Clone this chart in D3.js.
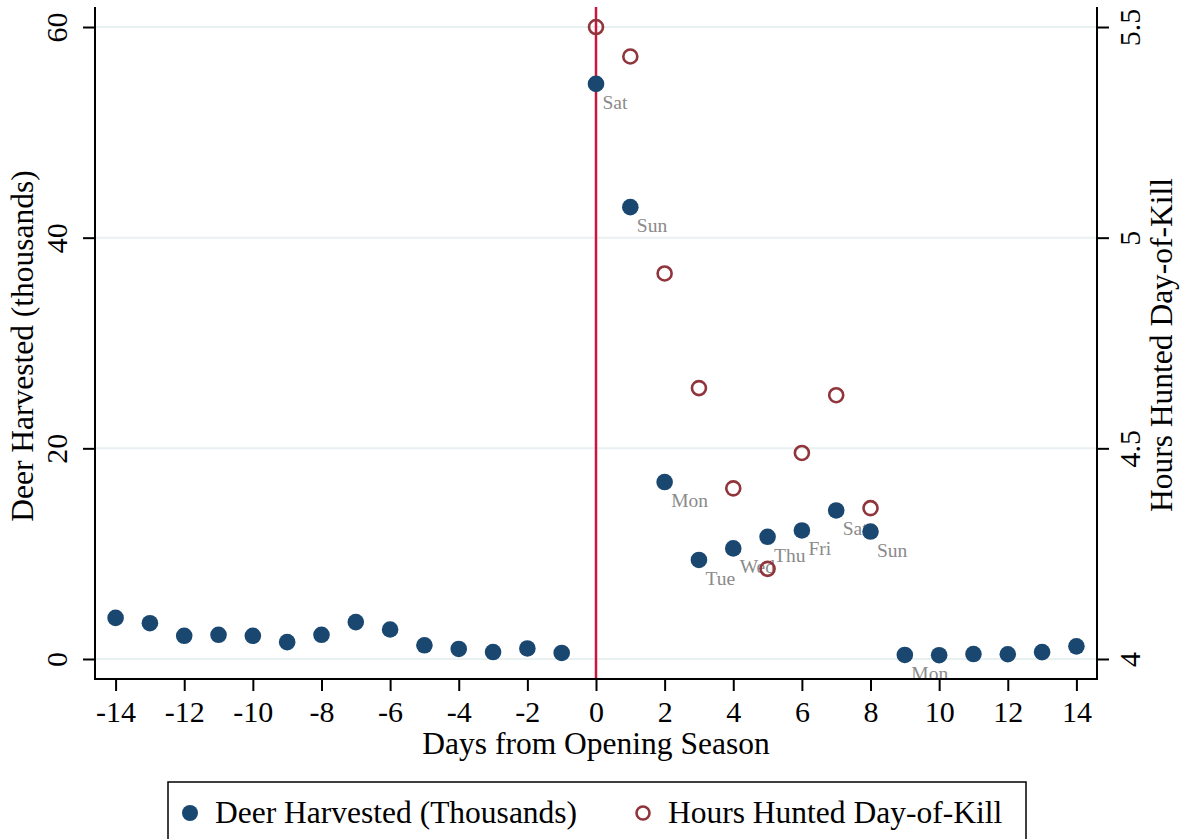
<!DOCTYPE html>
<html>
<head>
<meta charset="utf-8">
<script src="https://cdn.jsdelivr.net/npm/d3@7"></script>
<style>
  body { margin: 0; background: #fff; }
  svg { display: block; font-family: "Liberation Serif", "Times New Roman", serif; }
</style>
</head>
<body>
<svg id="chart"></svg>
<script>
// Days from opening season (x categories)
const days = [-14, -13, -12, -11, -10, -9, -8, -7, -6, -5, -4, -3, -2, -1,
  0, 1, 2, 3, 4, 5, 6, 7, 8, 9, 10, 11, 12, 13, 14];
// Deer harvested (thousands), left axis
const deer = [3.9, 3.4, 2.2, 2.3, 2.2, 1.6, 2.3, 3.5, 2.8, 1.3, 0.95, 0.66, 1.0, 0.57,
  54.6, 42.9, 16.8, 9.4, 10.5, 11.6, 12.2, 14.1, 12.1, 0.38, 0.36, 0.47, 0.45, 0.65, 1.2];
// Hours hunted day-of-kill, right axis
const hourDays = [0, 1, 2, 3, 4, 5, 6, 7, 8];
const hours = [5.50, 5.43, 4.915, 4.643, 4.405, 4.214, 4.489, 4.626, 4.358];
// Weekday labels next to the harvest markers
const labelDays = [0, 1, 2, 3, 4, 5, 6, 7, 8, 9];
const weekdays = ["Sat", "Sun", "Mon", "Tue", "Wed", "Thu", "Fri", "Sat", "Sun", "Mon"];
// Tick labels
const xTicks = [-14, -12, -10, -8, -6, -4, -2, 0, 2, 4, 6, 8, 10, 12, 14];
const leftTicks = [0, 20, 40, 60];
const rightTicks = [4, 4.5, 5, 5.5];

const config = {
  width: 1183, height: 839,
  left: 95, right: 1097, top: 7, bottom: 679
};
const navy = "#1a476f", maroon = "#90353b", vline = "#c8163c", grid = "#e9f0f1";

const svg = d3.select("#chart")
  .attr("width", config.width)
  .attr("height", config.height);

const x = d3.scaleLinear().domain([-14.6, 14.6]).range([config.left, config.right]);
const yL = d3.scaleLinear().domain([-1.9, 61.9]).range([config.bottom, config.top]);
// right axis lines up with left: 4 + left/40
const yR = d3.scaleLinear().domain([4 - 1.9 / 40, 4 + 61.9 / 40]).range([config.bottom, config.top]);

// gridlines
svg.append("g").selectAll("line")
  .data(leftTicks)
  .join("line")
  .attr("x1", config.left).attr("x2", config.right)
  .attr("y1", d => yL(d)).attr("y2", d => yL(d))
  .attr("stroke", grid).attr("stroke-width", 2);

// opening day line
svg.append("line")
  .attr("x1", x(0)).attr("x2", x(0))
  .attr("y1", config.top).attr("y2", config.bottom)
  .attr("stroke", vline).attr("stroke-width", 2.5);

// weekday labels
svg.append("g").selectAll("text")
  .data(labelDays)
  .join("text")
  .attr("x", d => x(d) + 6.5)
  .attr("y", d => yL(deer[days.indexOf(d)]) + 25)
  .attr("font-size", 19.5)
  .attr("fill", "#8a8a8a")
  .text((d, i) => weekdays[i]);

// deer harvested
svg.append("g").selectAll("circle")
  .data(days)
  .join("circle")
  .attr("cx", d => x(d))
  .attr("cy", (d, i) => yL(deer[i]))
  .attr("r", 8.3)
  .attr("fill", navy);

// hours hunted
svg.append("g").selectAll("circle")
  .data(hourDays)
  .join("circle")
  .attr("cx", d => x(d))
  .attr("cy", (d, i) => yR(hours[i]))
  .attr("r", 7)
  .attr("fill", "none")
  .attr("stroke", maroon)
  .attr("stroke-width", 2.6);

// axes (plain hyphen for negatives, like the original)
const xAxis = d3.axisBottom(x).tickValues(xTicks).tickSize(12).tickFormat(d => String(d));
const leftAxis = d3.axisLeft(yL).tickValues(leftTicks).tickSize(12).tickFormat(d => String(d));
const rightAxis = d3.axisRight(yR).tickValues(rightTicks).tickSize(12).tickFormat(d => String(d));

function styleAxis(g) {
  g.attr("font-family", null).attr("font-size", null);
  g.selectAll(".domain").remove();
  g.selectAll("line").attr("stroke", "#000").attr("stroke-width", 2);
  g.selectAll("text").attr("font-size", 30).attr("fill", "#000");
}

svg.append("g")
  .attr("transform", `translate(0,${config.bottom})`)
  .call(xAxis)
  .call(styleAxis)
  .selectAll("text").attr("y", 43).attr("dy", 0);

svg.append("g")
  .attr("transform", `translate(${config.left},0)`)
  .call(leftAxis)
  .call(styleAxis)
  .selectAll("text")
  .attr("x", 0).attr("dy", 0).attr("text-anchor", "middle")
  .attr("transform", "translate(-28,0) rotate(-90)");

svg.append("g")
  .attr("transform", `translate(${config.right},0)`)
  .call(rightAxis)
  .call(styleAxis)
  .selectAll("text")
  .attr("x", 0).attr("dy", 0).attr("text-anchor", "middle")
  .attr("transform", "translate(43,0) rotate(-90)");

// axis lines
const axisLines = svg.append("g").attr("stroke", "#000").attr("stroke-width", 2);
axisLines.append("line").attr("x1", config.left).attr("x2", config.left).attr("y1", config.top).attr("y2", config.bottom + 1);
axisLines.append("line").attr("x1", config.right).attr("x2", config.right).attr("y1", config.top).attr("y2", config.bottom + 1);
axisLines.append("line").attr("x1", config.left - 1).attr("x2", config.right + 1).attr("y1", config.bottom).attr("y2", config.bottom);

// axis titles
svg.append("text")
  .attr("x", (config.left + config.right) / 2).attr("y", 754)
  .attr("text-anchor", "middle").attr("font-size", 31.5)
  .text("Days from Opening Season");

svg.append("text")
  .attr("transform", `translate(33,${(config.top + config.bottom) / 2 + 3}) rotate(-90)`)
  .attr("text-anchor", "middle").attr("font-size", 31.5)
  .text("Deer Harvested (thousands)");

svg.append("text")
  .attr("transform", `translate(1172,${(config.top + config.bottom) / 2 + 2}) rotate(-90)`)
  .attr("text-anchor", "middle").attr("font-size", 31.5)
  .text("Hours Hunted Day-of-Kill");

// legend
const legend = svg.append("g");
legend.append("rect")
  .attr("x", 168).attr("y", 782).attr("width", 858).attr("height", 90)
  .attr("fill", "none").attr("stroke", "#000").attr("stroke-width", 1.5);
legend.append("circle").attr("cx", 190).attr("cy", 813).attr("r", 8).attr("fill", navy);
legend.append("text").attr("x", 215).attr("y", 823).attr("font-size", 31.5)
  .text("Deer Harvested (Thousands)");
legend.append("circle").attr("cx", 643).attr("cy", 813).attr("r", 6.5)
  .attr("fill", "none").attr("stroke", maroon).attr("stroke-width", 2.6);
legend.append("text").attr("x", 668).attr("y", 823).attr("font-size", 31.5)
  .text("Hours Hunted Day-of-Kill");
</script>
</body>
</html>
